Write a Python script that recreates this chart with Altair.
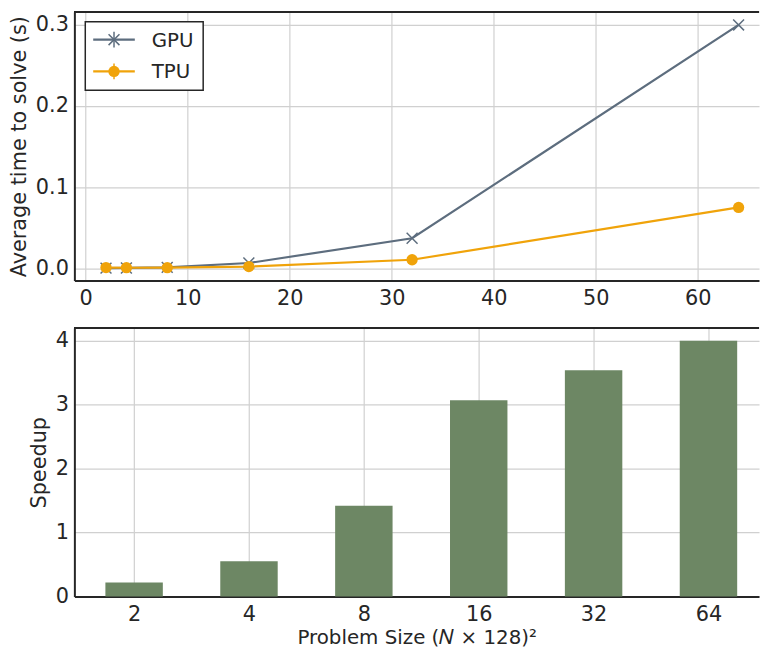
import json
import altair as alt
import pandas as pd

# ---- data ----
sizes = [2, 4, 8, 16, 32, 64]
gpu_time = [0.0002, 0.0004, 0.0011, 0.0065, 0.037, 0.300]
tpu_time = [0.0009, 0.0007, 0.0008, 0.0021, 0.0105, 0.075]
speedup = [0.22, 0.55, 1.42, 3.07, 3.54, 4.00]
devices = ["GPU", "TPU"]
colors = ["#5d6d7e", "#f0a30a"]
bar_color = "#6d8764"
x_ticks_top = [0, 10, 20, 30, 40, 50, 60]
y_ticks_top = [0.0, 0.1, 0.2, 0.3]
y_ticks_bottom = [0, 1, 2, 3, 4]

TEXT = "#262626"
BORDER = "#262626"
FONT = "DejaVu Sans"
W, H = 691, 271
X_MARK = "M-1,-1L1,1M-1,1L1,-1"

times = pd.DataFrame(
    {
        "size": sizes * 2,
        "time": gpu_time + tpu_time,
        "device": ["GPU"] * len(sizes) + ["TPU"] * len(sizes),
    }
)
bars = pd.DataFrame({"pos": list(range(len(sizes))), "speedup": speedup})
legend_df = pd.DataFrame({"device": devices})

color_scale = alt.Scale(domain=devices, range=colors)

x_top = alt.X(
    "size:Q",
    scale=alt.Scale(domain=[-1.1, 66.0], nice=False, zero=False),
    axis=alt.Axis(values=x_ticks_top, title=None, labelPadding=7),
)
y_top = alt.Y(
    "time:Q",
    scale=alt.Scale(domain=[-0.015, 0.316], nice=False, zero=False),
    axis=alt.Axis(values=y_ticks_top, format=".1f", title="Average time to solve (s)",
                  titlePadding=6, labelPadding=6),
)

lines = alt.Chart(times).mark_line(strokeWidth=2.2).encode(
    x=x_top, y=y_top, color=alt.Color("device:N", scale=color_scale, legend=None)
)
gpu_pts = alt.Chart(times).transform_filter(alt.datum.device == "GPU").mark_point(
    shape=X_MARK, size=121, strokeWidth=1.5, color=colors[0], opacity=1
).encode(x=x_top, y=y_top)
tpu_pts = alt.Chart(times).transform_filter(alt.datum.device == "TPU").mark_point(
    shape="circle", size=130, filled=True, color=colors[1], opacity=1
).encode(x=x_top, y=y_top)
top_border = alt.Chart(times).mark_rule(color=BORDER, strokeWidth=2).encode(
    x=alt.value(0), x2=alt.value(W), y=alt.value(0)
)

# ---- legend box (decoration, drawn inside the plot) ----
legend_layers = [
    alt.Chart(legend_df)
    .transform_filter(alt.datum.device == devices[0])
    .mark_rect(fill="white", stroke=BORDER, strokeWidth=1.5)
    .encode(x=alt.value(11), x2=alt.value(130), y=alt.value(10), y2=alt.value(79))
]
row_y = [28, 60]
for i, dev in enumerate(devices):
    base = alt.Chart(legend_df).transform_filter(alt.datum.device == dev)
    legend_layers.append(
        base.mark_rule(strokeWidth=2.2, color=colors[i]).encode(
            x=alt.value(19), x2=alt.value(61), y=alt.value(row_y[i])
        )
    )
    legend_layers.append(
        base.mark_rule(strokeWidth=1.5, color=colors[i]).encode(
            x=alt.value(40), y=alt.value(row_y[i] - 8), y2=alt.value(row_y[i] + 8)
        )
    )
    if i == 0:
        mk = base.mark_point(shape=X_MARK, size=121, strokeWidth=1.5,
                             color=colors[i], opacity=1)
    else:
        mk = base.mark_point(shape="circle", size=130, filled=True,
                             color=colors[i], opacity=1)
    legend_layers.append(mk.encode(x=alt.value(40), y=alt.value(row_y[i])))
    legend_layers.append(
        base.mark_text(align="left", baseline="middle", font=FONT, fontSize=20,
                       color=TEXT).encode(
            x=alt.value(78), y=alt.value(row_y[i] + 1), text="device:N"
        )
    )

top = alt.layer(lines, gpu_pts, tpu_pts, top_border, *legend_layers).properties(
    width=W, height=H
)

label_expr = json.dumps([str(s) for s in sizes]) + "[datum.value]"
x_bot_scale = alt.Scale(domain=[-0.52, 5.44], nice=False, zero=False)
bar_layer = (
    alt.Chart(bars)
    .transform_calculate(x0="datum.pos - 0.25", x1="datum.pos + 0.25")
    .mark_bar(color=bar_color)
    .encode(
        x=alt.X(
            "x0:Q",
            scale=x_bot_scale,
            axis=alt.Axis(
                values=list(range(len(sizes))),
                labelExpr=label_expr,
                title="Problem Size (𝑁 × 128)²",
                titleFontSize=20,
                labelPadding=7,
                titlePadding=3,
            ),
        ),
        x2="x1:Q",
        y=alt.Y(
            "speedup:Q",
            scale=alt.Scale(domain=[0, 4.2], nice=False),
            axis=alt.Axis(values=y_ticks_bottom, title="Speedup", titlePadding=6,
                          labelPadding=6),
        ),
        y2=alt.datum(0),
    )
)
bot_border = alt.Chart(bars).mark_rule(color=BORDER, strokeWidth=2).encode(
    x=alt.value(0), x2=alt.value(W), y=alt.value(0)
)
bottom = alt.layer(bar_layer, bot_border).properties(width=W, height=H)

chart = (
    alt.vconcat(top, bottom, spacing=19)
    .properties(padding=0)
    .configure_view(stroke=None)
    .configure_axis(
        labelFont=FONT,
        titleFont=FONT,
        labelFontSize=21,
        titleFontSize=21,
        titleFontWeight="normal",
        labelColor=TEXT,
        titleColor=TEXT,
        grid=True,
        gridColor="#d0d0d0",
        gridWidth=1.2,
        ticks=False,
        tickSize=0,
        domain=True,
        domainColor=BORDER,
        domainWidth=2,
    )
)

chart.save("out.html", embed_options={"renderer": "svg", "actions": False})
